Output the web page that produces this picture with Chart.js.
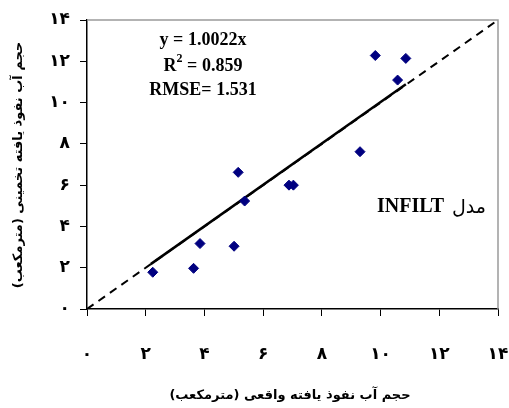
<!DOCTYPE html>
<html>
<head>
<meta charset="utf-8">
<script src="https://cdn.jsdelivr.net/npm/chart.js@4"></script>
<style>
  html, body { margin: 0; padding: 0; background: #fff; }
  #wrap { width: 509px; height: 408px; }
</style>
</head>
<body>
<div id="wrap"><canvas id="chart" width="509" height="408"></canvas></div>
<script>
const observed = [2.24, 3.63, 3.85, 5.01, 5.15, 5.37, 6.88, 7.03, 9.30, 9.82, 10.58, 10.86];
const estimated = [1.78, 1.97, 3.17, 3.04, 6.62, 5.23, 6.00, 6.00, 7.62, 12.28, 11.09, 12.14];
const slope = 1.0022;
const fitX = [2.17, 10.86];
const oneToOneX = [0, 14];
const axisTicks = [0, 2, 4, 6, 8, 10, 12, 14];

const xTitle = 'حجم آب نفوذ یافته واقعی (مترمکعب)';
const yTitle = 'حجم آب نفوذ یافته تخمینی (مترمکعب)';
const statLines = ['y = 1.0022x', 'R2 = 0.859', 'RMSE= 1.531'];
const modelWord = 'مدل';
const modelName = 'INFILT';

const faDigits = '۰۱۲۳۴۵۶۷۸۹';
const toFa = (n) => String(n).replace(/\d/g, d => faDigits[d]);

const FA_FONT = '"DejaVu Sans", sans-serif';
const SERIF = '"Liberation Serif", "Times New Roman", serif';

// frame, titles and text boxes
const decorations = {
    id: 'decorations',
    afterDraw(chart) {
        const { ctx, chartArea: a } = chart;
        ctx.save();
        // gray top and right border
        ctx.strokeStyle = '#9a9a9a';
        ctx.lineWidth = 1.5;
        ctx.beginPath();
        ctx.moveTo(a.left, a.top);
        ctx.lineTo(a.right, a.top);
        ctx.lineTo(a.right, a.bottom);
        ctx.stroke();

        ctx.fillStyle = '#000';
        ctx.textAlign = 'center';
        ctx.textBaseline = 'middle';

        // stats box
        const big = 'bold 18px ' + SERIF, sup = 'bold 12px ' + SERIF;
        ctx.font = big;
        ctx.fillText(statLines[0], 203, 40);
        // R² with superscript
        const r = 'R', rest = ' = 0.859';
        const wR = ctx.measureText(r).width;
        const wRest = ctx.measureText(rest).width;
        ctx.font = sup;
        const wSup = ctx.measureText('2').width;
        let sx = 203 - (wR + wSup + wRest) / 2;
        ctx.textAlign = 'left';
        ctx.font = big;
        ctx.fillText(r, sx, 66);
        ctx.font = sup;
        ctx.fillText('2', sx + wR, 59);
        ctx.font = big;
        ctx.fillText(rest, sx + wR + wSup, 66);
        ctx.textAlign = 'center';
        ctx.fillText(statLines[2], 203, 90);

        // model label: Persian word on the right, name on the left
        ctx.textAlign = 'right';
        ctx.font = '19px ' + FA_FONT;
        ctx.direction = 'rtl';
        ctx.fillText(modelWord, 486, 208);
        const wWord = ctx.measureText(modelWord).width;
        ctx.direction = 'ltr';
        ctx.font = 'bold 20px ' + SERIF;
        ctx.fillText(modelName, 486 - wWord - 8, 207);

        // axis titles
        ctx.textAlign = 'center';
        ctx.font = 'bold 13px ' + FA_FONT;
        ctx.direction = 'rtl';
        ctx.fillText(xTitle, 290, 396);
        ctx.translate(19, 165);
        ctx.rotate(-Math.PI / 2);
        ctx.fillText(yTitle, 0, 0);
        ctx.restore();
    }
};

const pts = observed.map((x, i) => ({ x: x, y: estimated[i] }));
const fitPts = fitX.map(x => ({ x: x, y: slope * x }));
const linePts = oneToOneX.map(x => ({ x: x, y: x }));

new Chart(document.getElementById('chart'), {
    type: 'scatter',
    data: {
        datasets: [
            {
                label: 'estimated',
                data: pts,
                pointStyle: 'rectRot',
                pointRadius: 5,
                backgroundColor: '#000080',
                borderColor: '#000080',
                order: 0
            },
            {
                label: 'fit',
                type: 'line',
                data: fitPts,
                borderColor: '#000',
                borderWidth: 2.5,
                pointRadius: 0,
                order: 1
            },
            {
                label: '1:1',
                type: 'line',
                data: linePts,
                borderColor: '#000',
                borderWidth: 2,
                borderDash: [8, 6],
                pointRadius: 0,
                order: 2
            }
        ]
    },
    options: {
        responsive: false,
        animation: false,
        layout: { padding: { top: 20, right: 11, left: 0, bottom: 0 } },
        plugins: { legend: { display: false }, tooltip: { enabled: false } },
        scales: {
            x: {
                type: 'linear',
                min: 0, max: 14,
                afterBuildTicks: (s) => { s.ticks = axisTicks.map(v => ({ value: v })); },
                afterFit: (s) => { s.height = 99; s.paddingLeft = 0; s.paddingRight = 0; },
                grid: { drawOnChartArea: false, drawTicks: true, tickLength: 7, color: '#000' },
                border: { color: '#000', width: 1.5 },
                ticks: {
                    padding: 28,
                    color: '#000',
                    font: { family: FA_FONT, size: 17, weight: 'bold' },
                    maxRotation: 0,
                    callback: (v) => toFa(v)
                }
            },
            y: {
                type: 'linear',
                min: 0, max: 14,
                afterBuildTicks: (s) => { s.ticks = axisTicks.map(v => ({ value: v })); },
                afterFit: (s) => { s.width = 87; s.paddingTop = 0; s.paddingBottom = 0; },
                grid: { drawOnChartArea: false, drawTicks: true, tickLength: 7, color: '#000' },
                border: { color: '#000', width: 1.5 },
                ticks: {
                    padding: 10,
                    color: '#000',
                    font: { family: FA_FONT, size: 17, weight: 'bold' },
                    callback: (v) => toFa(v)
                }
            }
        }
    },
    plugins: [decorations]
});
</script>
</body>
</html>
